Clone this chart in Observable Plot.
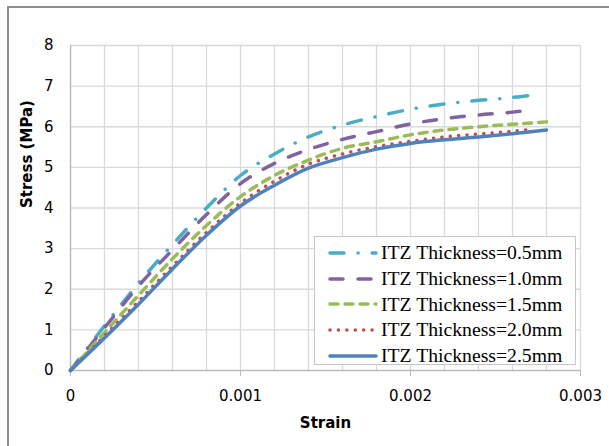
<!DOCTYPE html>
<html>
<head>
<meta charset="utf-8">
<script src="https://cdn.jsdelivr.net/npm/d3@7"></script>
<script src="https://cdn.jsdelivr.net/npm/@observablehq/plot@0.6"></script>
<style>
  html, body { margin: 0; padding: 0; background: #fff; overflow: hidden; width: 609px; height: 446px; }
  #wrap { position: relative; width: 609px; height: 446px; }
  #frame { position: absolute; left: 7px; top: 6px; width: 700px; height: 600px;
           border-left: 2px solid #8f8f8f; border-top: 2px solid #8f8f8f; pointer-events: none; }
  #legend { position: absolute; left: 314px; top: 236px; width: 262px; height: 129px;
            border: 1px solid #c6c6c6; background: #fff; box-sizing: border-box; padding-top: 3px; }
  .row { height: 25.7px; display: flex; align-items: center; }
  .row svg { margin-left: 13px; margin-right: 3px; }
  .row span { font-family: "Liberation Serif", "Times New Roman", serif; font-size: 19.7px; color: #000; white-space: nowrap; }
</style>
</head>
<body>
<div id="wrap"></div>
<script>
// ---- data ----
const seriesNames = ["ITZ Thickness=0.5mm", "ITZ Thickness=1.0mm", "ITZ Thickness=1.5mm", "ITZ Thickness=2.0mm", "ITZ Thickness=2.5mm"];

const strain05 = [0, 0.0002, 0.0004, 0.0006, 0.0008, 0.001, 0.0012, 0.0014, 0.0016, 0.0018, 0.002, 0.0022, 0.0024, 0.0026, 0.0027];
const stress05 = [0, 1.10, 2.15, 3.10, 4.00, 4.80, 5.33, 5.75, 6.04, 6.25, 6.43, 6.56, 6.65, 6.72, 6.77];

const strain10 = [0, 0.0002, 0.0004, 0.0006, 0.0008, 0.001, 0.0012, 0.0014, 0.0016, 0.0018, 0.002, 0.0022, 0.0024, 0.0026, 0.00268];
const stress10 = [0, 1.05, 2.08, 2.97, 3.84, 4.60, 5.10, 5.44, 5.69, 5.88, 6.07, 6.20, 6.29, 6.36, 6.40];

const strain15 = [0, 0.0002, 0.0004, 0.0006, 0.0008, 0.001, 0.0012, 0.0014, 0.0016, 0.0018, 0.002, 0.0022, 0.0024, 0.0026, 0.0028];
const stress15 = [0, 0.93, 1.85, 2.75, 3.57, 4.28, 4.80, 5.18, 5.47, 5.63, 5.80, 5.92, 6.00, 6.06, 6.12];

const strain20 = [0, 0.0002, 0.0004, 0.0006, 0.0008, 0.001, 0.0012, 0.0014, 0.0016, 0.0018, 0.002, 0.0022, 0.0024, 0.0026, 0.0027];
const stress20 = [0, 0.85, 1.70, 2.57, 3.40, 4.12, 4.66, 5.08, 5.33, 5.51, 5.64, 5.75, 5.82, 5.89, 5.93];

const strain25 = [0, 0.0002, 0.0004, 0.0006, 0.0008, 0.001, 0.0012, 0.0014, 0.0016, 0.0018, 0.002, 0.0022, 0.0024, 0.0026, 0.0028];
const stress25 = [0, 0.80, 1.63, 2.50, 3.33, 4.05, 4.56, 4.98, 5.24, 5.45, 5.59, 5.68, 5.75, 5.83, 5.92];

const xTicks = [0, 0.001, 0.002, 0.003];
const xTickLabels = ["0", "0.001", "0.002", "0.003"];
const xGrid = [0.0002, 0.0004, 0.0006, 0.0008, 0.001, 0.0012, 0.0014, 0.0016, 0.0018, 0.002, 0.0022, 0.0024, 0.0026, 0.0028, 0.003];
const yTicks = [0, 1, 2, 3, 4, 5, 6, 7, 8];

// ---- styles ----
const styles = [
  {color: "#4BACC6", dash: "14,14,0.1,14"},
  {color: "#8064A2", dash: "13,15"},
  {color: "#9BBB59", dash: "8,7"},
  {color: "#C0504D", dash: "0.1,8.3"},
  {color: "#4F81BD", dash: null}
];

const strains = [strain05, strain10, strain15, strain20, strain25];
const stresses = [stress05, stress10, stress15, stress20, stress25];
const tables = strains.map((s, i) => s.map((x, j) => ({strain: x, stress: stresses[i][j]})));

const lineMarks = tables.map((t, i) => Plot.line(t, {
  x: "strain", y: "stress", curve: "monotone-x",
  stroke: styles[i].color, strokeWidth: 3.5, strokeLinecap: "round", strokeLinejoin: "round",
  strokeDasharray: styles[i].dash
}));

const chart = Plot.plot({
  width: 609, height: 446,
  marginLeft: 70, marginRight: 29, marginTop: 45, marginBottom: 76,
  x: {domain: [0, 0.003]},
  y: {domain: [0, 8]},
  style: {fontFamily: "DejaVu Sans", fontSize: "15px", background: "transparent", color: "#000"},
  marks: [
    Plot.gridX(xGrid, {stroke: "#d9d9d9", strokeOpacity: 1, strokeWidth: 1.3}),
    Plot.gridY(yTicks.slice(1), {stroke: "#d9d9d9", strokeOpacity: 1, strokeWidth: 1.3}),
    Plot.ruleX([0], {stroke: "#bcbcbc", strokeWidth: 1.5}),
    Plot.ruleY([0], {stroke: "#bcbcbc", strokeWidth: 1.5}),
    Plot.axisX(xTicks, {tickSize: 6, tickPadding: 14, stroke: "#bcbcbc", tickFormat: (d, i) => xTickLabels[i], label: null, fill: "#000"}),
    Plot.axisY(yTicks, {tickSize: 0, tickPadding: 17, label: null, fill: "#000"}),
    ...lineMarks,
    Plot.text(["Strain"], {frameAnchor: "bottom", dy: 53, lineAnchor: "middle", fontWeight: "bold", fontSize: 15, fill: "#000"}),
    Plot.text(["Stress (MPa)"], {frameAnchor: "left", dx: -43, rotate: -90, lineAnchor: "middle", fontWeight: "bold", fontSize: 15, fill: "#000"})
  ]
});

const wrap = document.getElementById("wrap");
wrap.appendChild(chart);

const frame = document.createElement("div");
frame.id = "frame";
wrap.appendChild(frame);

// legend
const legend = document.createElement("div");
legend.id = "legend";
seriesNames.forEach((name, i) => {
  const row = document.createElement("div");
  row.className = "row";
  const ns = "http://www.w3.org/2000/svg";
  const svg = document.createElementNS(ns, "svg");
  svg.setAttribute("width", "50");
  svg.setAttribute("height", "8");
  const ln = document.createElementNS(ns, "line");
  ln.setAttribute("x1", "2"); ln.setAttribute("x2", "48");
  ln.setAttribute("y1", "4"); ln.setAttribute("y2", "4");
  ln.setAttribute("stroke", styles[i].color);
  ln.setAttribute("stroke-width", "3.5");
  ln.setAttribute("stroke-linecap", "round");
  if (styles[i].dash) ln.setAttribute("stroke-dasharray", styles[i].dash);
  svg.appendChild(ln);
  const sp = document.createElement("span");
  sp.textContent = name;
  row.appendChild(svg);
  row.appendChild(sp);
  legend.appendChild(row);
});
wrap.appendChild(legend);
</script>
</body>
</html>
